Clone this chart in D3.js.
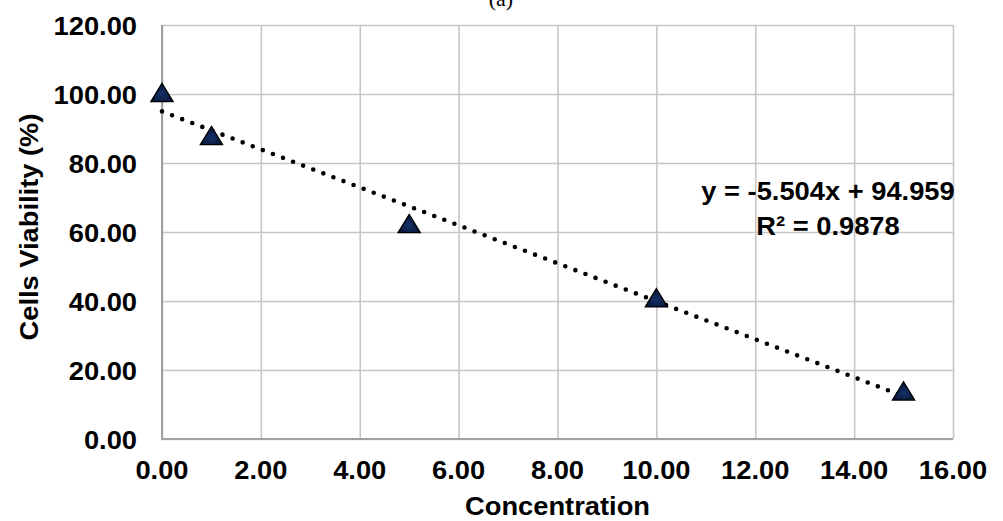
<!DOCTYPE html>
<html><head><meta charset="utf-8">
<script src="https://cdn.jsdelivr.net/npm/d3@7"></script>
<style>
html,body{margin:0;padding:0;background:#fff;}
svg{display:block;}
text{font-family:"Liberation Sans",Arial,sans-serif;font-weight:bold;fill:#000;}
</style></head>
<body>
<svg id="chart" width="1003" height="521"></svg>
<script>
const concentration = [0, 1, 5, 10, 15];
const viability = [100, 87.5, 62, 40.5, 13.5];
const xTicks = [0, 2, 4, 6, 8, 10, 12, 14, 16];
const yTicks = [0, 20, 40, 60, 80, 100, 120];
const trendSlope = -5.504, trendIntercept = 94.959;
const trendRange = [0, 15];
const eqLabel = "y = -5.504x + 94.959";
const r2Label = "R\u00B2 = 0.9878";
const xTitle = "Concentration";
const yTitle = "Cells Viability (%)";
const panelTitle = "(a)";

const svg = d3.select("#chart");
const L = 162, R = 953, T = 25, B = 439;
const SX = 1.03, FS = 26.5;
const x = d3.scaleLinear().domain([0, 16]).range([L, R]);
const y = d3.scaleLinear().domain([0, 120]).range([B, T]);

// gridlines
const gx = svg.append("g").attr("transform", `translate(0,${B})`)
  .call(d3.axisBottom(x).tickValues(xTicks).tickSize(-(B - T)).tickFormat(""));
gx.select(".domain").remove();
gx.selectAll(".tick line").attr("stroke", "#c6c6c6").attr("stroke-width", 1.6);
const gy = svg.append("g").attr("transform", `translate(${L},0)`)
  .call(d3.axisLeft(y).tickValues(yTicks).tickSize(-(R - L)).tickFormat(""));
gy.select(".domain").remove();
gy.selectAll(".tick line").attr("stroke", "#c6c6c6").attr("stroke-width", 1.6);

// axis lines
svg.append("line").attr("x1", x(0)).attr("x2", x(0)).attr("y1", T).attr("y2", B)
  .attr("stroke", "#a0a0a0").attr("stroke-width", 2);
svg.append("line").attr("x1", L - 1).attr("x2", R).attr("y1", B).attr("y2", B)
  .attr("stroke", "#a0a0a0").attr("stroke-width", 2);

function stxt(px, py, str, anchor, size, rot) {
  return svg.append("text")
    .attr("transform", `translate(${px},${py})` + (rot ? ` rotate(${rot})` : "") + ` scale(${SX},1)`)
    .attr("text-anchor", anchor).style("font-size", size + "px").text(str);
}
const fmt = d3.format(".2f");
xTicks.forEach(v => stxt(x(v), 479, fmt(v), "middle", FS));
yTicks.forEach(v => stxt(137, y(v) + 9.5, fmt(v), "end", FS));

stxt((L + R) / 2, 515, xTitle, "middle", FS);
stxt(38, 227, yTitle, "middle", FS, -90);

svg.append("text").attr("x", 501).attr("y", 6).attr("text-anchor", "middle")
  .style("font-family", "'Liberation Serif','Times New Roman',serif").style("font-weight", "normal")
  .style("font-size", "22px").text(panelTitle);

// trendline
const line = d3.line().x(d => x(d)).y(d => y(trendSlope * d + trendIntercept));
svg.append("path").datum(trendRange).attr("d", line)
  .attr("fill", "none").attr("stroke", "#000").attr("stroke-width", 4.6)
  .attr("stroke-linecap", "round").attr("stroke-dasharray", "0 10.8");

// markers
const defs = svg.append("defs");
const grad = defs.append("radialGradient").attr("id", "mk").attr("cx", "50%").attr("cy", "60%").attr("r", "60%");
grad.append("stop").attr("offset", "0%").attr("stop-color", "#15306a");
grad.append("stop").attr("offset", "100%").attr("stop-color", "#06122e");
const tri = d3.symbol().type(d3.symbolTriangle).size(215);
svg.append("g").selectAll("path").data(concentration).join("path")
  .attr("d", tri)
  .attr("transform", (d, i) => `translate(${x(d)},${y(viability[i]) + 1.5}) scale(1,0.95)`)
  .attr("fill", "url(#mk)").attr("stroke", "#000").attr("stroke-width", 1.3);

// equation
stxt(828, 200, eqLabel, "middle", FS);
stxt(828, 235, r2Label, "middle", FS);
</script>
</body></html>
